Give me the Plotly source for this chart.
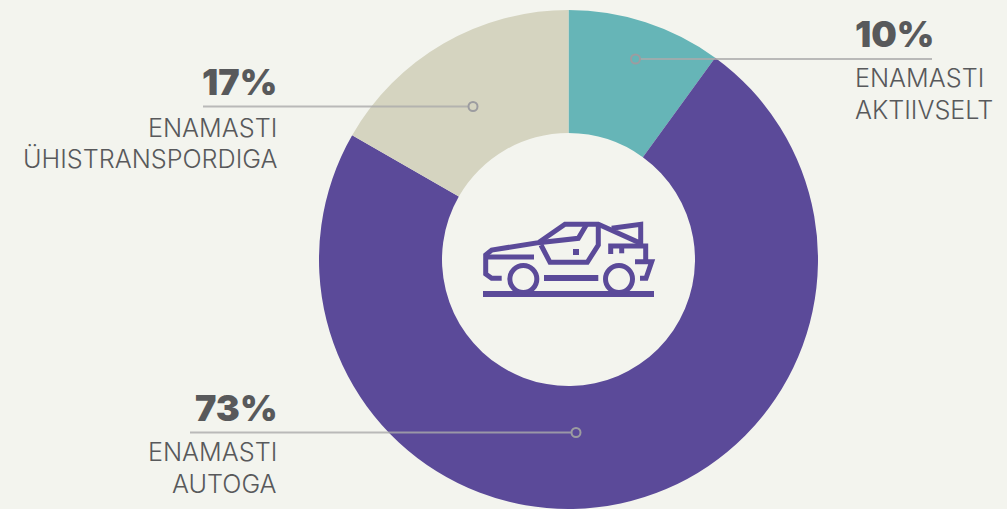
import plotly.graph_objects as go

W, H = 1007, 509
categories = ["ENAMASTI<br>AKTIIVSELT", "ENAMASTI<br>AUTOGA", "ENAMASTI<br>ÜHISTRANSPORDIGA"]
values = [10, 73.3, 16.7]
percent_labels = ["10%", "73%", "17%"]
colors = ["#66b5b7", "#5b4a99", "#d5d4c0"]
BG = "#f3f4ee"
TXT = "#58595b"
FONT = "Inter"
LEAD = "rgba(170,170,170,0.8)"

fig = go.Figure(go.Pie(
    values=values, labels=categories, sort=False, direction="clockwise", rotation=0,
    hole=0.507, textinfo="none", hoverinfo="skip", showlegend=False,
    marker=dict(colors=colors, line=dict(width=0)),
    domain=dict(x=[319 / W, 818 / W], y=[0, 1 - 10 / H]),
))

shapes = []
def leader(x0, x1, y, cx):
    shapes.append(dict(type="line", xref="x", yref="y", x0=x0, x1=x1, y0=y, y1=y,
                       line=dict(color=LEAD, width=2), layer="above"))
    shapes.append(dict(type="circle", xref="x", yref="y", x0=cx - 4.5, x1=cx + 4.5, y0=y - 4.5, y1=y + 4.5,
                       line=dict(color="#9c9ca0", width=2), fillcolor="rgba(0,0,0,0)", layer="above"))
leader(640, 932, 59, 635.5)
leader(203, 468.5, 106.5, 473)
leader(190, 571.5, 432.5, 576)

# car icon, outline traced in a 3x crop with origin at (470, 210)
def pt(x, y):
    return 470 + x / 3, 210 + y / 3
def poly(points):
    return "M" + " L".join("%.1f,%.1f" % pt(*p) for p in points)
icon_lines = [
    [(95, 205), (65, 205), (47, 192), (47, 135), (65, 120), (205, 98), (285, 43), (385, 43), (512, 100), (512, 43), (425, 55)],
    [(47, 141), (192, 141)],
    [(205, 98), (325, 85), (350, 43)],
    [(385, 43), (385, 105), (352, 157), (240, 157), (213, 105)],
    [(422, 132), (422, 108), (527, 108), (527, 155)],
    [(455, 108), (455, 130)],
    [(495, 155), (545, 155), (528, 205), (510, 205)],
]
for p in icon_lines:
    shapes.append(dict(type="path", xref="x", yref="y", path=poly(p), line=dict(color=colors[1], width=5), layer="above"))
for a, b, wd in [((39, 252), (552, 252), 6), ((222, 204), (385, 204), 6)]:
    shapes.append(dict(type="path", xref="x", yref="y", path=poly([a, b]), line=dict(color=colors[1], width=wd), layer="above"))
shapes.append(dict(type="path", xref="x", yref="y", path=poly([(309, 117), (327, 117), (327, 135), (309, 135)]) + " Z",
                   fillcolor=colors[1], line=dict(width=0), layer="above"))
for cx in (160, 447):
    x, y = pt(cx, 207)
    shapes.append(dict(type="circle", xref="x", yref="y", x0=x - 13.5, x1=x + 13.5, y0=y - 13.5, y1=y + 13.5,
                       line=dict(color=colors[1], width=5), fillcolor=BG, layer="above"))

annotations = []
def label(x, y, text, anchor, size, weight):
    annotations.append(dict(x=x, y=y, xref="x", yref="y", text=text, showarrow=False, xanchor=anchor, yanchor="middle",
                            align=anchor, borderpad=0, borderwidth=0,
                            font=dict(family=FONT, size=size, color=TXT, weight=weight)))
BIG, SMALL = 36, 25.2
label(855, 34, percent_labels[0], "left", BIG, 900)
label(855, 78, "ENAMASTI", "left", SMALL, 300)
label(855, 110, "AKTIIVSELT", "left", SMALL, 300)
label(277, 82, percent_labels[2], "right", BIG, 900)
label(277, 128, "ENAMASTI", "right", SMALL, 300)
label(277, 159, "ÜHISTRANSPORDIGA", "right", SMALL, 300)
label(277, 408, percent_labels[1], "right", BIG, 900)
label(277, 452, "ENAMASTI", "right", SMALL, 300)
label(277, 484, "AUTOGA", "right", SMALL, 300)

fig.update_layout(
    width=W, height=H, margin=dict(l=0, r=0, t=0, b=0), paper_bgcolor=BG, plot_bgcolor=BG,
    xaxis=dict(range=[0, W], visible=False, fixedrange=True),
    yaxis=dict(range=[H, 0], visible=False, fixedrange=True),
    shapes=shapes, annotations=annotations,
)
# invisible trace keeps the cartesian axes alive for the overlay
fig.add_trace(go.Scatter(x=[0], y=[0], mode="markers", marker=dict(opacity=0), hoverinfo="skip", showlegend=False))
fig.write_html("out.html", config=dict(displayModeBar=False),
               post_script="document.body.style.margin='0';document.body.style.background='%s';" % BG)
